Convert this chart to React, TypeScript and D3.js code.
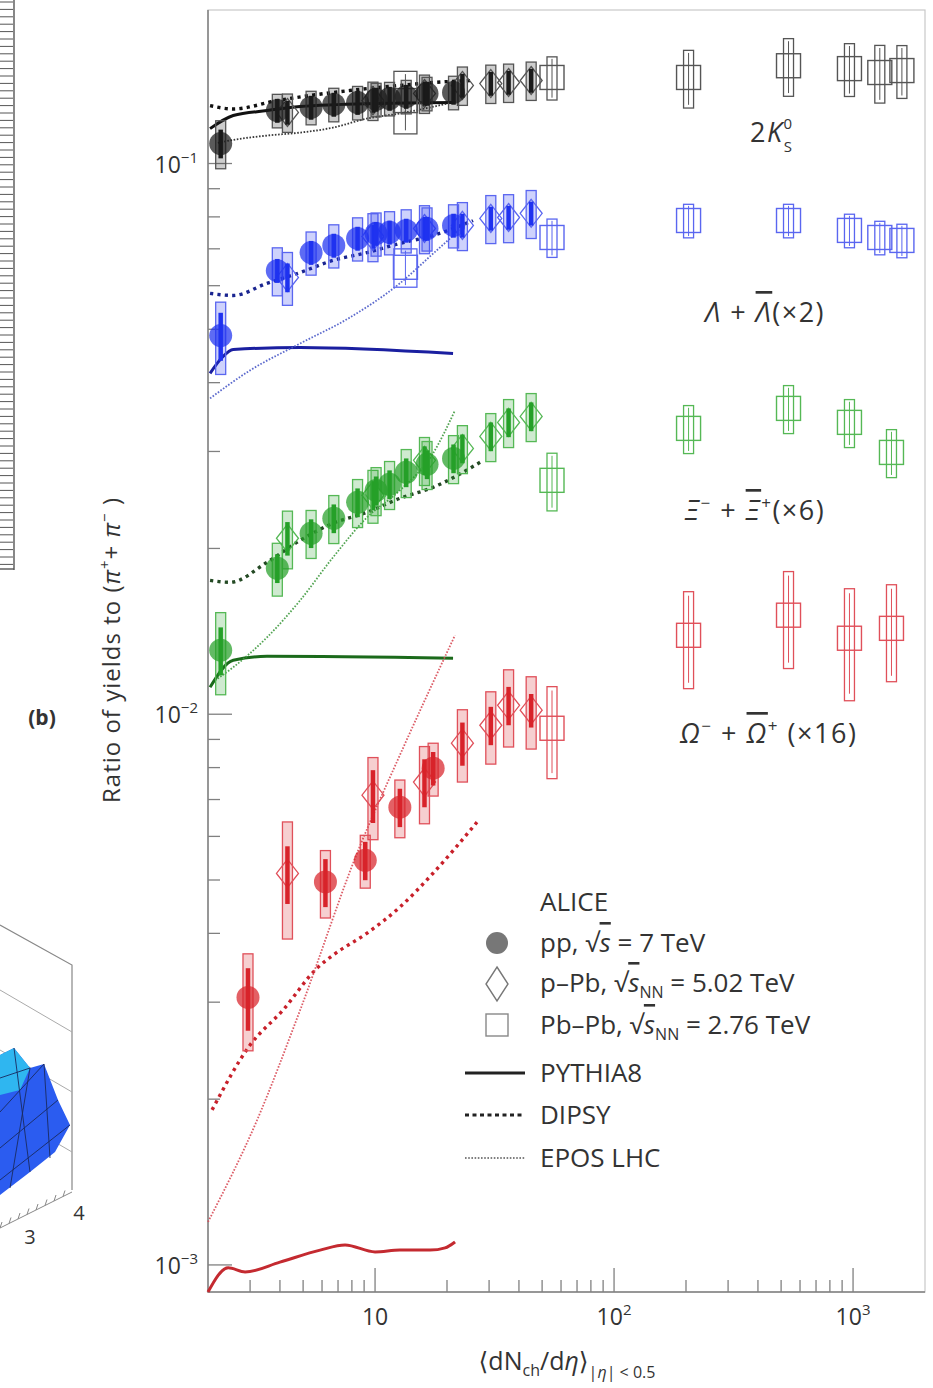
import React, { useEffect, useRef } from 'react';
import * as d3 from 'd3';

// multiplicity classes <dNch/deta>
const PP_X = [2.26, 3.9, 5.4, 6.72, 8.45, 10.1, 11.5, 13.5, 16.5, 21.3];
const PP_X_OMEGA = [2.94, 6.2, 9.1, 12.7, 17.5];
const PPB_X = [4.3, 9.8, 16.1, 23.2, 30.5, 36.2, 45.0];
const PBPB_X = [13.4, 55, 205, 537, 966, 1294, 1601];
const PBPB_X_MULTI = [55, 205, 537, 966, 1448];

// 2K0s / (pi+ + pi-)
const K0S_PP = [0.1087, 0.1248, 0.1264, 0.128, 0.129, 0.1307, 0.1312, 0.1323, 0.134, 0.1346];
const K0S_PP_SYS = [0.1, 0.07, 0.07, 0.07, 0.07, 0.07, 0.07, 0.07, 0.07, 0.07];
const K0S_PP_STAT = [0.06, 0.05, 0.05, 0.05, 0.05, 0.05, 0.05, 0.05, 0.05, 0.05];
const K0S_PPB = [0.1238, 0.1301, 0.134, 0.1386, 0.1397, 0.1403, 0.1415];
const K0S_PPB_SYS = [0.08, 0.08, 0.08, 0.08, 0.08, 0.08, 0.08];
const K0S_PPB_STAT = [0.05, 0.05, 0.05, 0.05, 0.05, 0.05, 0.05];
const K0S_PBPB = [0.1301, 0.1433, 0.1433, 0.1505, 0.1487, 0.1463, 0.1475];
const K0S_PBPB_SYS = [0.13, 0.09, 0.12, 0.12, 0.11, 0.12, 0.11];

// Lambda (x2)
const LAM_PP = [0.0487, 0.0639, 0.0689, 0.071, 0.0731, 0.0746, 0.075, 0.0756, 0.0762, 0.0772];
const LAM_PP_SYS = [0.15, 0.1, 0.09, 0.09, 0.09, 0.09, 0.09, 0.09, 0.09, 0.09];
const LAM_PP_STAT = [0.1, 0.05, 0.05, 0.05, 0.05, 0.05, 0.05, 0.05, 0.05, 0.05];
const LAM_PPB = [0.0621, 0.0737, 0.0762, 0.0772, 0.0795, 0.0798, 0.0812];
const LAM_PPB_SYS = [0.11, 0.1, 0.1, 0.1, 0.1, 0.1, 0.1];
const LAM_PPB_STAT = [0.06, 0.05, 0.05, 0.05, 0.05, 0.05, 0.05];
const LAM_PBPB = [0.0648, 0.0734, 0.0788, 0.0788, 0.0756, 0.0734, 0.0725];
const LAM_PBPB_SYS = [0.08, 0.08, 0.07, 0.07, 0.07, 0.07, 0.07];

// Xi (x6)
const XI_PP = [0.01307, 0.01841, 0.02131, 0.02268, 0.02425, 0.02549, 0.02615, 0.02749, 0.02843, 0.02914];
const XI_PP_SYS = [0.17, 0.11, 0.1, 0.1, 0.1, 0.1, 0.1, 0.1, 0.1, 0.1];
const XI_PP_STAT = [0.1, 0.06, 0.06, 0.06, 0.06, 0.06, 0.06, 0.06, 0.06, 0.06];
const XI_PPB = [0.02087, 0.02497, 0.02891, 0.03038, 0.03195, 0.03388, 0.03474];
const XI_PPB_SYS = [0.12, 0.11, 0.1, 0.1, 0.1, 0.1, 0.1];
const XI_PPB_STAT = [0.07, 0.06, 0.06, 0.06, 0.06, 0.06, 0.06];
const XI_PBPB = [0.02659, 0.03304, 0.03592, 0.03388, 0.02988];
const XI_PBPB_SYS = [0.12, 0.1, 0.1, 0.1, 0.1];

// Omega (x16)
const OM_PP = [0.00306, 0.00496, 0.00543, 0.00678, 0.00798];
const OM_PP_SYS = [0.2, 0.14, 0.11, 0.12, 0.11];
const OM_PP_STAT = [0.13, 0.1, 0.08, 0.08, 0.07];
const OM_PPB = [0.00514, 0.00713, 0.00753, 0.00886, 0.00955, 0.01038, 0.01017];
const OM_PPB_SYS = [0.24, 0.17, 0.16, 0.15, 0.15, 0.16, 0.15];
const OM_PPB_STAT = [0.12, 0.11, 0.1, 0.09, 0.08, 0.08, 0.07];
const OM_PBPB = [0.00943, 0.01391, 0.01513, 0.01374, 0.01432];
const OM_PBPB_SYS = [0.19, 0.2, 0.2, 0.23, 0.2];

// model curves [dNch/deta, ratio]
const K0S_PYTHIA = [[2.04, 0.1157], [2.55, 0.1222], [3.53, 0.1248], [4.86, 0.1269], [10, 0.1285], [21.2, 0.129]];
const K0S_DIPSY = [[2.04, 0.1274], [2.55, 0.1256], [3.89, 0.1301], [5.35, 0.1329], [7.86, 0.1357], [12.7, 0.1386], [17.48, 0.1403], [25.5, 0.1415]];
const K0S_EPOS = [[2.2, 0.109], [2.47, 0.1101], [3.53, 0.1124], [4.86, 0.1138], [6.67, 0.1162], [9.26, 0.1207], [12.7, 0.1233], [22.7, 0.1301]];

const LAM_PYTHIA = [[2.04, 0.04159], [2.29, 0.04444], [2.55, 0.04596], [4.86, 0.04634], [21.2, 0.04519]];
const LAM_DIPSY = [[2.04, 0.0581], [2.55, 0.0576], [3.53, 0.0606], [4.86, 0.0634], [6.67, 0.0667], [9.26, 0.0689], [12.7, 0.0716], [17.48, 0.074], [25.7, 0.0788]];
const LAM_EPOS = [[2.04, 0.03746], [3.0, 0.04211], [4.86, 0.04712], [7.86, 0.05255], [12.7, 0.0606], [17.48, 0.0686], [21.2, 0.074], [22.7, 0.0762]];

const XI_PYTHIA = [[2.04, 0.01119], [2.55, 0.01253], [3.53, 0.01274], [21.2, 0.01264]];
const XI_DIPSY = [[2.04, 0.0175], [2.47, 0.01736], [3.53, 0.01887], [4.86, 0.02069], [6.67, 0.02222], [9.26, 0.02326], [12.7, 0.02466], [17.48, 0.02582], [27.5, 0.02867]];
const XI_EPOS = [[2.14, 0.01152], [2.55, 0.01217], [3.53, 0.01379], [4.86, 0.0161], [6.67, 0.01927], [9.26, 0.02278], [12.7, 0.02549], [17.48, 0.02976], [21.6, 0.03562]];

const OM_PYTHIA = [[2.0, 0.000893], [2.43, 0.000988], [2.86, 0.000971], [4.0, 0.001012], [5.89, 0.001064], [7.49, 0.001087], [10, 0.001056], [12.7, 0.001064], [17, 0.001064], [19.63, 0.001074], [21.6, 0.001101]];
const OM_DIPSY = [[2.08, 0.001912], [3.0, 0.002508], [4.12, 0.002903], [5.72, 0.003459], [6.67, 0.003652], [9.26, 0.004004], [12.7, 0.004464], [17.48, 0.005143], [26.7, 0.006368]];
const OM_EPOS = [[2.0, 0.001197], [3.21, 0.001833], [4.86, 0.002903], [8.41, 0.005594], [12.7, 0.008427], [21.6, 0.01391]];

const FONT = '"Open Sans", "DejaVu Sans", sans-serif';
const TEXT = '#333';

const SPECIES = [
  {
    color: '#1a1a1a', light: '#555555', pythia: '#111', dipsy: '#111', epos: '#222',
    pp: [PP_X, K0S_PP, K0S_PP_SYS, K0S_PP_STAT], ppb: [PPB_X, K0S_PPB, K0S_PPB_SYS, K0S_PPB_STAT],
    pbpb: [PBPB_X, K0S_PBPB, K0S_PBPB_SYS], models: [K0S_PYTHIA, K0S_DIPSY, K0S_EPOS]
  },
  {
    color: '#1f32f0', light: '#5a66f0', pythia: '#1a1fa0', dipsy: '#1a2590', epos: '#4a5ac8',
    pp: [PP_X, LAM_PP, LAM_PP_SYS, LAM_PP_STAT], ppb: [PPB_X, LAM_PPB, LAM_PPB_SYS, LAM_PPB_STAT],
    pbpb: [PBPB_X, LAM_PBPB, LAM_PBPB_SYS], models: [LAM_PYTHIA, LAM_DIPSY, LAM_EPOS]
  },
  {
    color: '#25a028', light: '#55b855', pythia: '#1b6a1b', dipsy: '#244a24', epos: '#3f9a3f',
    pp: [PP_X, XI_PP, XI_PP_SYS, XI_PP_STAT], ppb: [PPB_X, XI_PPB, XI_PPB_SYS, XI_PPB_STAT],
    pbpb: [PBPB_X_MULTI, XI_PBPB, XI_PBPB_SYS], models: [XI_PYTHIA, XI_DIPSY, XI_EPOS]
  },
  {
    color: '#d8232a', light: '#e0505a', pythia: '#c42a30', dipsy: '#c8202a', epos: '#d84a55',
    pp: [PP_X_OMEGA, OM_PP, OM_PP_SYS, OM_PP_STAT], ppb: [PPB_X, OM_PPB, OM_PPB_SYS, OM_PPB_STAT],
    pbpb: [PBPB_X_MULTI, OM_PBPB, OM_PBPB_SYS], models: [OM_PYTHIA, OM_DIPSY, OM_EPOS]
  }
];

const App: React.FC = () => {
  const svgRef = useRef<SVGSVGElement>(null);

  useEffect(() => {
    if (!svgRef.current) return;
    const width = 933;
    const height = 1388;
    const plot = { left: 208, right: 925, top: 10, bottom: 1292 };

    const svg = d3.select(svgRef.current);
    svg.selectAll('*').remove();
    svg.attr('width', width).attr('height', height);

    svg.append('rect').attr('width', width).attr('height', height).attr('fill', '#fff');

    const x = d3.scaleLog().domain([2, 2000]).range([plot.left, plot.right]);
    const y = d3.scaleLog().domain([0.000893, 0.19]).range([plot.bottom, plot.top]);

    // neighbouring panel fragments (ruler + 3D surface)
    const deco = svg.append('g').attr('stroke', '#555').attr('fill', 'none');
    deco.append('line').attr('x1', 14).attr('x2', 14).attr('y1', 0).attr('y2', 570).attr('stroke-width', 1.4);
    d3.range(2, 568, 7.4).forEach(v => {
      deco.append('line').attr('x1', 0).attr('x2', 13).attr('y1', v).attr('y2', v).attr('stroke-width', 1);
    });
    deco.append('line').attr('x1', 0).attr('x2', 14).attr('y1', 569).attr('y2', 569).attr('stroke-width', 1.4);

    const surf = svg.append('g');
    surf.append('path').attr('d', 'M0,925 L72,965 L72,1190').attr('stroke', '#888').attr('fill', 'none').attr('stroke-width', 1.2);
    surf.append('path').attr('d', 'M0,990 L72,1032 M0,1050 L72,1092 M0,1110 L72,1152').attr('stroke', '#aaa').attr('fill', 'none');
    surf.append('path')
      .attr('d', 'M0,1055 L14,1048 L30,1068 L44,1064 L58,1100 L70,1125 L55,1152 L30,1172 L0,1195 Z')
      .attr('fill', '#2b5cf0');
    surf.append('path')
      .attr('d', 'M0,1055 L14,1048 L30,1068 L20,1090 L0,1095 Z')
      .attr('fill', '#2fb6f0');
    surf.append('path')
      .attr('d', 'M0,1078 L30,1068 M0,1112 L44,1064 M0,1148 L58,1100 M0,1180 L70,1125 M14,1048 L30,1172 M30,1068 L10,1188 M44,1064 L50,1158')
      .attr('stroke', '#1a2a60').attr('fill', 'none').attr('stroke-width', 0.9);
    surf.append('path').attr('d', 'M0,1228 L72,1192').attr('stroke', '#888').attr('fill', 'none');
    d3.range(0, 72, 9).forEach(v => {
      surf.append('line').attr('x1', v).attr('x2', v + 2).attr('y1', 1228 - v / 2).attr('y2', 1222 - v / 2).attr('stroke', '#888');
    });
    surf.append('text').attr('x', 30).attr('y', 1244).attr('text-anchor', 'middle').attr('font-family', FONT).attr('font-size', 20).attr('fill', TEXT).text('3');
    surf.append('text').attr('x', 79).attr('y', 1220).attr('text-anchor', 'middle').attr('font-family', FONT).attr('font-size', 20).attr('fill', TEXT).text('4');

    svg.append('text').attr('x', 42).attr('y', 725).attr('text-anchor', 'middle')
      .attr('font-family', FONT).attr('font-weight', 'bold').attr('font-size', 21).attr('fill', TEXT).text('(b)');

    // frame
    svg.append('rect')
      .attr('x', plot.left).attr('y', plot.top)
      .attr('width', plot.right - plot.left).attr('height', plot.bottom - plot.top)
      .attr('fill', 'none').attr('stroke', '#c8c8c8').attr('stroke-width', 1.2);
    svg.append('path')
      .attr('d', `M${plot.left},${plot.top} V${plot.bottom} H${plot.right}`)
      .attr('fill', 'none').attr('stroke', '#808080').attr('stroke-width', 1.5);

    // ticks
    const axisG = svg.append('g').attr('stroke', '#808080').attr('stroke-width', 1.3);
    const yMajors = [0.001, 0.01, 0.1];
    const yMinors: number[] = [];
    [0.001, 0.01, 0.1].forEach(dec => d3.range(2, 10).forEach(m => {
      const v = dec * m;
      if (v < 0.19) yMinors.push(v);
    }));
    yMinors.forEach(v => axisG.append('line').attr('x1', plot.left).attr('x2', plot.left + 12).attr('y1', y(v)).attr('y2', y(v)));
    yMajors.forEach(v => axisG.append('line').attr('x1', plot.left).attr('x2', plot.left + 24).attr('y1', y(v)).attr('y2', y(v)));

    const xMajors = [10, 100, 1000];
    const xMinors: number[] = [];
    [1, 10, 100, 1000].forEach(dec => d3.range(2, 10).forEach(m => {
      const v = dec * m;
      if (v > 2.05 && v < 1990) xMinors.push(v);
    }));
    xMinors.forEach(v => axisG.append('line').attr('y1', plot.bottom).attr('y2', plot.bottom - 12).attr('x1', x(v)).attr('x2', x(v)));
    xMajors.forEach(v => axisG.append('line').attr('y1', plot.bottom).attr('y2', plot.bottom - 24).attr('x1', x(v)).attr('x2', x(v)));

    // tick labels
    yMajors.forEach(v => {
      const t = svg.append('text').attr('x', 198).attr('y', y(v) + 9).attr('text-anchor', 'end')
        .attr('font-family', FONT).attr('font-size', 23).attr('fill', TEXT);
      t.append('tspan').text('10');
      t.append('tspan').attr('dy', -10).attr('font-size', 15).text('−' + Math.round(-Math.log10(v)));
    });
    xMajors.forEach(v => {
      const t = svg.append('text').attr('x', x(v)).attr('y', 1325).attr('text-anchor', 'middle')
        .attr('font-family', FONT).attr('font-size', 23).attr('fill', TEXT);
      t.append('tspan').text('10');
      if (v > 10) t.append('tspan').attr('dy', -10).attr('font-size', 15).text(String(Math.round(Math.log10(v))));
    });

    // axis titles
    const xt = svg.append('text').attr('x', 567).attr('y', 1370).attr('text-anchor', 'middle')
      .attr('font-family', FONT).attr('font-size', 25).attr('fill', TEXT);
    xt.append('tspan').text('⟨dN');
    xt.append('tspan').attr('dy', 6).attr('font-size', 16).text('ch');
    xt.append('tspan').attr('dy', -6).text('/d');
    xt.append('tspan').attr('font-style', 'italic').text('η');
    xt.append('tspan').text('⟩');
    xt.append('tspan').attr('dy', 8).attr('font-size', 16).text('|');
    xt.append('tspan').attr('font-size', 16).attr('font-style', 'italic').text('η');
    xt.append('tspan').attr('font-size', 16).text('| < 0.5');

    const yt = svg.append('text').attr('transform', 'translate(120,650) rotate(-90)').attr('text-anchor', 'middle')
      .attr('font-family', FONT).attr('font-size', 24).attr('letter-spacing', 1).attr('fill', TEXT);
    yt.append('tspan').text('Ratio of yields to (');
    yt.append('tspan').attr('font-style', 'italic').text('π');
    yt.append('tspan').attr('dy', -10).attr('font-size', 15).text('+');
    yt.append('tspan').attr('dy', 10).text('+ ');
    yt.append('tspan').attr('font-style', 'italic').text('π');
    yt.append('tspan').attr('dy', -10).attr('font-size', 15).text('−');
    yt.append('tspan').attr('dy', 10).text(' )');

    const plotG = svg.append('g');

    // model curves
    const line = d3.line<number[]>().x(d => x(d[0])).y(d => y(d[1])).curve(d3.curveMonotoneX);
    const modelStyles = [
      { w: 3, dash: null as string | null, op: 1 },
      { w: 3.4, dash: '3.2 4.2', op: 1 },
      { w: 1.8, dash: '1.6 1.6', op: 0.9 }
    ];
    SPECIES.forEach(s => {
      const cols = [s.pythia, s.dipsy, s.epos];
      s.models.forEach((m, i) => {
        const st = modelStyles[i];
        const p = plotG.append('path').attr('d', line(m as number[][]) || '')
          .attr('fill', 'none').attr('stroke', cols[i]).attr('stroke-width', st.w)
          .attr('opacity', st.op);
        if (st.dash) p.attr('stroke-dasharray', st.dash);
      });
    });

    // data points
    const sysBox = (g: any, xv: number, yv: number, e: number, w: number, stroke: string, fill: string) => {
      const y0 = y(yv * (1 + e));
      const y1 = y(yv * (1 - e));
      g.append('rect').attr('x', x(xv) - w / 2).attr('y', y0).attr('width', w).attr('height', y1 - y0)
        .attr('fill', fill).attr('stroke', stroke).attr('stroke-width', 1.3);
    };
    const statBar = (g: any, xv: number, yv: number, e: number, color: string, w: number) => {
      g.append('line').attr('x1', x(xv)).attr('x2', x(xv))
        .attr('y1', y(yv * (1 + e))).attr('y2', y(yv * (1 - e)))
        .attr('stroke', color).attr('stroke-width', w);
    };

    SPECIES.forEach(s => {
      const fillLight = d3.color(s.color)!.copy({ opacity: 0.22 }).toString();

      // Pb-Pb: open square + open sys box
      const [bx, by, bs] = s.pbpb as number[][];
      bx.forEach((xv, i) => {
        const wide = xv < 20;
        sysBox(plotG, xv, by[i], bs[i], wide ? 23 : 10, s.light, 'none');
        statBar(plotG, xv, by[i], bs[i] * 0.9, s.light, 1);
        plotG.append('rect').attr('x', x(xv) - 12).attr('y', y(by[i]) - 12).attr('width', 24).attr('height', 24)
          .attr('fill', 'none').attr('stroke', s.light).attr('stroke-width', 1.4);
      });

      // p-Pb: open diamond
      const [qx, qy, qs, qt] = s.ppb as number[][];
      qx.forEach((xv, i) => {
        sysBox(plotG, xv, qy[i], qs[i], 10, s.light, fillLight);
        const cx = x(xv), cy = y(qy[i]);
        plotG.append('path').attr('d', `M${cx},${cy - 14} L${cx + 11},${cy} L${cx},${cy + 14} L${cx - 11},${cy} Z`)
          .attr('fill', 'none').attr('stroke', s.light).attr('stroke-width', 1.3);
        statBar(plotG, xv, qy[i], qt[i], s.color, 4.5);
      });

      // pp: filled circle
      const [px, py, ps, pt] = s.pp as number[][];
      px.forEach((xv, i) => {
        sysBox(plotG, xv, py[i], ps[i], 10, s.light, fillLight);
        plotG.append('circle').attr('cx', x(xv)).attr('cy', y(py[i])).attr('r', 11.5)
          .attr('fill', s.color).attr('opacity', 0.72);
        statBar(plotG, xv, py[i], pt[i], s.color, 4.5);
      });
    });

    // species labels
    const lab = (xp: number, yp: number) => svg.append('text').attr('x', xp).attr('y', yp)
      .attr('font-family', FONT).attr('font-size', 27).attr('letter-spacing', 1.5).attr('fill', TEXT);

    const k = lab(750, 142);
    k.append('tspan').text('2');
    k.append('tspan').attr('font-style', 'italic').text('K');
    k.append('tspan').attr('dy', -13).attr('font-size', 15).text('0');
    k.append('tspan').attr('dx', -10).attr('dy', 23).attr('font-size', 15).text('S');

    const l = lab(705, 322);
    l.append('tspan').attr('font-style', 'italic').text('Λ');
    l.append('tspan').text(' + ');
    l.append('tspan').attr('font-style', 'italic').style('text-decoration', 'overline').text('Λ');
    l.append('tspan').text('(×2)');

    const xi = lab(685, 520);
    xi.append('tspan').attr('font-style', 'italic').text('Ξ');
    xi.append('tspan').attr('dy', -11).attr('font-size', 17).text('−');
    xi.append('tspan').attr('dy', 11).text(' + ');
    xi.append('tspan').attr('font-style', 'italic').style('text-decoration', 'overline').text('Ξ');
    xi.append('tspan').attr('dy', -11).attr('font-size', 17).text('+');
    xi.append('tspan').attr('dy', 11).text('(×6)');

    const om = lab(680, 743);
    om.append('tspan').attr('font-style', 'italic').text('Ω');
    om.append('tspan').attr('dy', -11).attr('font-size', 17).text('−');
    om.append('tspan').attr('dy', 11).text(' + ');
    om.append('tspan').attr('font-style', 'italic').style('text-decoration', 'overline').text('Ω');
    om.append('tspan').attr('dy', -11).attr('font-size', 17).text('+');
    om.append('tspan').attr('dy', 11).text(' (×16)');

    // legend
    const lg = svg.append('g').attr('font-family', FONT).attr('font-size', 26).attr('fill', TEXT);
    const tx = 540;
    lg.append('text').attr('x', tx).attr('y', 911).text('ALICE');
    lg.append('circle').attr('cx', 497).attr('cy', 943).attr('r', 11).attr('fill', '#777');
    lg.append('path').attr('d', 'M497,967 L508,984 L497,1001 L486,984 Z').attr('fill', 'none').attr('stroke', '#777').attr('stroke-width', 1.4);
    lg.append('rect').attr('x', 486).attr('y', 1014).attr('width', 22).attr('height', 22).attr('fill', 'none').attr('stroke', '#888').attr('stroke-width', 1.4);

    const sq = (t: any, sub?: string) => {
      t.append('tspan').text('√');
      t.append('tspan').attr('font-style', 'italic').style('text-decoration', 'overline').text('s');
      if (sub) t.append('tspan').attr('dy', 6).attr('font-size', 16).text(sub);
      if (sub) t.append('tspan').attr('dy', -6).text(' = ');
      else t.append('tspan').text(' = ');
    };
    const t1 = lg.append('text').attr('x', tx).attr('y', 952);
    t1.append('tspan').text('pp, ');
    sq(t1);
    t1.append('tspan').text('7 TeV');
    const t2 = lg.append('text').attr('x', tx).attr('y', 992);
    t2.append('tspan').text('p–Pb, ');
    sq(t2, 'NN');
    t2.append('tspan').text('5.02 TeV');
    const t3 = lg.append('text').attr('x', tx).attr('y', 1034);
    t3.append('tspan').text('Pb–Pb, ');
    sq(t3, 'NN');
    t3.append('tspan').text('2.76 TeV');

    lg.append('line').attr('x1', 465).attr('x2', 525).attr('y1', 1073).attr('y2', 1073).attr('stroke', '#222').attr('stroke-width', 3);
    lg.append('text').attr('x', tx).attr('y', 1082).text('PYTHIA8');
    lg.append('line').attr('x1', 465).attr('x2', 525).attr('y1', 1115).attr('y2', 1115).attr('stroke', '#222').attr('stroke-width', 3).attr('stroke-dasharray', '4 3.5');
    lg.append('text').attr('x', tx).attr('y', 1124).text('DIPSY');
    lg.append('line').attr('x1', 465).attr('x2', 525).attr('y1', 1158).attr('y2', 1158).attr('stroke', '#555').attr('stroke-width', 1.6).attr('stroke-dasharray', '1.6 1.6');
    lg.append('text').attr('x', tx).attr('y', 1167).text('EPOS LHC');
  }, []);

  return (
    <div style={{ position: 'absolute', left: 0, top: 0 }}>
      <svg ref={svgRef} style={{ display: 'block' }} />
    </div>
  );
};

export default App;
